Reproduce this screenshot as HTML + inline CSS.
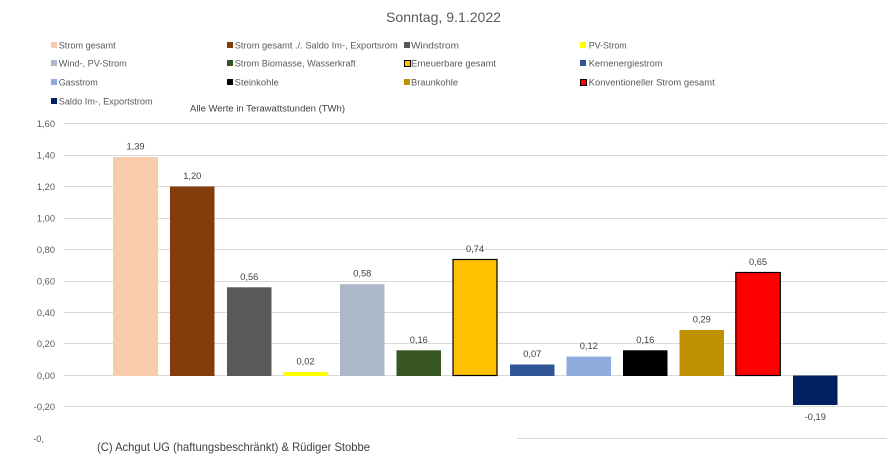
<!DOCTYPE html>
<html><head><meta charset="utf-8"><style>
html,body{margin:0;padding:0;background:#fff;}
svg{display:block;font-family:"Liberation Sans",Arial,sans-serif;}
</style></head><body>
<svg width="889" height="464" viewBox="0 0 889 464" xmlns="http://www.w3.org/2000/svg">
<rect width="889" height="464" fill="#fff"/>
<text x="443.5" y="22" font-size="14" fill="#595959" text-anchor="middle" textLength="115" lengthAdjust="spacingAndGlyphs">Sonntag, 9.1.2022</text>
<g font-size="9.3" fill="#595959">
<rect x="51" y="42" width="6" height="6" fill="#F8CBAD"/><text x="58.7" y="48.5" textLength="57" lengthAdjust="spacingAndGlyphs">Strom gesamt</text>
<rect x="227" y="42" width="6" height="6" fill="#843C0C"/><text x="234.7" y="48.5" textLength="163" lengthAdjust="spacingAndGlyphs">Strom gesamt ./. Saldo Im-, Exportsrom</text>
<rect x="404" y="42" width="6" height="6" fill="#595959"/><text x="411" y="48.5" textLength="48" lengthAdjust="spacingAndGlyphs">Windstrom</text>
<rect x="580" y="42" width="6" height="6" fill="#FFFF00"/><text x="588.7" y="48.5" textLength="38" lengthAdjust="spacingAndGlyphs">PV-Strom</text>
<rect x="51" y="60" width="6" height="6" fill="#ADB9CA"/><text x="58.7" y="66.5" textLength="68" lengthAdjust="spacingAndGlyphs">Wind-, PV-Strom</text>
<rect x="227" y="60" width="6" height="6" fill="#375623"/><text x="234.7" y="66.5" textLength="121" lengthAdjust="spacingAndGlyphs">Strom Biomasse, Wasserkraft</text>
<rect x="404.5" y="60.5" width="6" height="6" fill="#FFC000" stroke="#000" stroke-width="1"/><text x="411" y="66.5" textLength="85" lengthAdjust="spacingAndGlyphs">Erneuerbare gesamt</text>
<rect x="580" y="60" width="6" height="6" fill="#2F5597"/><text x="588.7" y="66.5" textLength="74" lengthAdjust="spacingAndGlyphs">Kernenergiestrom</text>
<rect x="51" y="79" width="6" height="6" fill="#8FAADC"/><text x="58.7" y="85.5" textLength="39" lengthAdjust="spacingAndGlyphs">Gasstrom</text>
<rect x="227" y="79" width="6" height="6" fill="#000000"/><text x="234.7" y="85.5" textLength="44" lengthAdjust="spacingAndGlyphs">Steinkohle</text>
<rect x="404" y="79" width="6" height="6" fill="#BF9000"/><text x="411" y="85.5" textLength="47" lengthAdjust="spacingAndGlyphs">Braunkohle</text>
<rect x="580.5" y="79.5" width="6" height="6" fill="#FF0000" stroke="#000" stroke-width="1"/><text x="588.7" y="85.5" textLength="126" lengthAdjust="spacingAndGlyphs">Konventioneller Strom gesamt</text>
<rect x="51" y="98" width="6" height="6" fill="#002060"/><text x="58.7" y="104.5" textLength="94" lengthAdjust="spacingAndGlyphs">Saldo Im-, Exportstrom</text>
<text x="190" y="111.5" fill="#404040" textLength="155" lengthAdjust="spacingAndGlyphs">Alle Werte in Terawattstunden (TWh)</text>
</g>
<g stroke="#D9D9D9" stroke-width="1">
<line x1="64" x2="887" y1="123.5" y2="123.5"/>
<line x1="64" x2="887" y1="155.5" y2="155.5"/>
<line x1="64" x2="887" y1="186.5" y2="186.5"/>
<line x1="64" x2="887" y1="218.5" y2="218.5"/>
<line x1="64" x2="887" y1="249.5" y2="249.5"/>
<line x1="64" x2="887" y1="281.5" y2="281.5"/>
<line x1="64" x2="887" y1="312.5" y2="312.5"/>
<line x1="64" x2="887" y1="343.5" y2="343.5"/>
<line x1="64" x2="887" y1="375.5" y2="375.5"/>
<line x1="64" x2="887" y1="406.5" y2="406.5"/>
<line x1="517" x2="887" y1="438.5" y2="438.5"/>
</g>
<g font-size="9.3" fill="#595959" text-anchor="end">
<text x="55" y="127">1,60</text>
<text x="55" y="158.5">1,40</text>
<text x="55" y="190">1,20</text>
<text x="55" y="221.5">1,00</text>
<text x="55" y="253">0,80</text>
<text x="55" y="284.5">0,60</text>
<text x="55" y="316">0,40</text>
<text x="55" y="347">0,20</text>
<text x="55" y="379">0,00</text>
<text x="55" y="410">-0,20</text>
<text x="44" y="442">-0,</text>
</g>
<g>
<rect x="113" y="157" width="45" height="219" fill="#F8CBAD"/>
<rect x="170" y="186.5" width="44.5" height="189.5" fill="#843C0C"/>
<rect x="227" y="287.3" width="44.5" height="88.7" fill="#595959"/>
<rect x="283" y="372" width="45" height="4" fill="#FFFF00"/>
<rect x="340" y="284.2" width="44.5" height="91.8" fill="#ADB9CA"/>
<rect x="396.5" y="350.3" width="44.5" height="25.7" fill="#375623"/>
<rect x="453" y="259.5" width="44" height="116" fill="#FFC000" stroke="#000" stroke-width="1.2"/>
<rect x="510" y="364.5" width="44.5" height="11.5" fill="#2F5597"/>
<rect x="566.5" y="356.6" width="44.5" height="19.4" fill="#8FAADC"/>
<rect x="623" y="350.3" width="44.5" height="25.7" fill="#000000"/>
<rect x="679.5" y="330" width="44.5" height="46" fill="#BF9000"/>
<rect x="735.8" y="272.5" width="44.5" height="103" fill="#FF0000" stroke="#000" stroke-width="1.2"/>
<rect x="793" y="375.5" width="44.5" height="29.5" fill="#002060"/>
</g>
<g font-size="9.3" fill="#404040" text-anchor="middle">
<text x="135.5" y="149.5">1,39</text>
<text x="192.3" y="179">1,20</text>
<text x="249.3" y="280">0,56</text>
<text x="305.5" y="364.5">0,02</text>
<text x="362.3" y="276.5">0,58</text>
<text x="418.8" y="343">0,16</text>
<text x="475" y="252">0,74</text>
<text x="532.3" y="357">0,07</text>
<text x="588.8" y="349">0,12</text>
<text x="645.3" y="343">0,16</text>
<text x="701.8" y="322.5">0,29</text>
<text x="758" y="265">0,65</text>
<text x="815.3" y="420">-0,19</text>
</g>
<text x="97" y="451" font-size="12" fill="#404040" textLength="273" lengthAdjust="spacingAndGlyphs">(C) Achgut UG (haftungsbeschränkt) &amp; Rüdiger Stobbe</text>
</svg>
</body></html>
